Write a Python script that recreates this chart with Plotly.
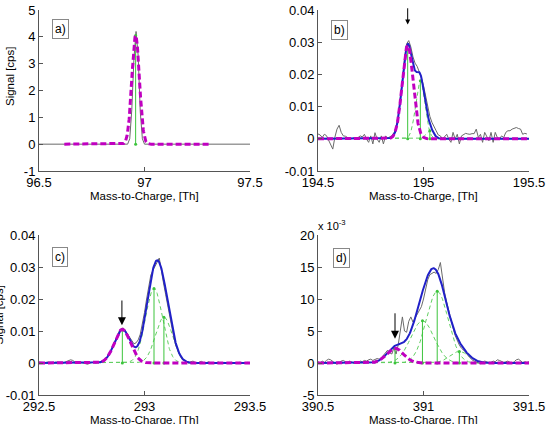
import numpy as np
import plotly.graph_objects as go

W, H = 547, 424
FONT = "Liberation Sans, Arial, sans-serif"

# ---------------- data ----------------
# panel a) : measured signal (cps) and fitted peak (centre, height, width)
a_sig_x = [96.50, 96.92, 96.93, 96.94, 96.95, 96.96, 96.97, 96.98, 96.99, 97.00, 97.50]
a_sig_y = [0, 0, 0.2, 1.3, 3.2, 4.2, 3.3, 1.2, 0.2, 0, 0]
a_fit_range = [96.62, 97.31]
a_target = (96.958, 4.05, 0.018)
a_others = []

# panel b) : signal in 1e-3 cps, sampled every 0.01 Th from 194.50
b_start = 194.50
b_sig_milli = [1.5, 1.2, 0.4, 1.4, 1.0, -0.3, -1.5, -3.2, 0.5, 3.0,
               4.2, 2.0, 0.9, 0.8, 0.4, 0.2, 0.0, 0.3, 0.1, 0.4,
               0.9, 0.6, 1.4, -0.1, -1.1, 0.9, -1.6, 1.9, -0.1, -1.1,
               0.9, -1.6, 0.9, 0.2, 0.5, 1.0, 1.8, 3.5, 7.0, 12.0,
               18.5, 25.0, 29.5, 30.5, 28.5, 25.5, 23.5, 22.5, 21.0, 19.0,
               16.5, 13.0, 9.5, 7.0, 5.1, 3.5, 2.5, 1.2, 0.9, -0.1,
               0.5, 1.4, -0.1, -1.1, 2.0, -0.1, 1.4, -1.6, 0.9, 1.4,
               1.7, 1.5, 1.4, 1.6, 1.6, 3.0, 0.4, 1.4, -1.1, 2.0,
               0.9, -0.6, 2.0, -1.1, 2.0, 0.4, -0.1, 0.9, 0.4, 2.0,
               2.5, 2.5, 3.0, 3.2, 3.5, 3.2, 3.0, 1.4, 1.7, 1.5]
b_target = (194.925, 29.0, 0.026)
b_others = [(194.985, 18.0, 0.022), (195.03, 2.5, 0.018)]

# panel c)
c_start = 292.50
c_sig_milli = [0.3, 0.2, 0.0, 0.1, 0.3, 0.2, 0.0, 0.1, 0.3, 0.2,
               0.1, 0.0, 0.2, 0.5, 0.9, 1.0, 0.8, 0.3, 0.1, 0.0,
               0.2, 0.1, -0.2, -0.4, -0.1, 0.2, 0.1, 0.0, 0.3, 0.4,
               0.6, 1.0, 1.6, 2.5, 3.8, 5.4, 7.0, 8.6, 9.9, 10.8,
               10.9, 10.0, 9.0, 7.8, 6.6, 6.0, 6.3, 7.2, 9.0, 12.0,
               15.8, 20.0, 24.2, 27.5, 29.0, 30.5, 31.5, 32.8, 28.5, 25.0,
               21.5, 17.8, 14.0, 10.8, 7.6, 5.2, 3.3, 2.0, 1.0, 0.8,
               0.2, 0.0, 0.4, 0.6, 0.2, -0.2, 0.3, 0.5, 0.1, -0.3,
               0.4, 0.2, 0.0, -0.2, 0.1, 0.3, 0.0, -0.1, 0.2, 0.1,
               0.0, 0.2, 0.1, -0.1, 0.0, 0.2, 0.1, 0.0, 0.1, 0.2,
               0.1]
c_target = (292.895, 10.5, 0.038)
c_others = [(293.045, 23.3, 0.040), (293.092, 14.3, 0.040)]

# panel d)  (axis in units of 1e-3)
d_start = 390.50
d_sig_milli = [0.2, 0.0, 0.3, 0.1, 0.4, 0.6, 0.5, 0.2, 0.0, -0.2,
               0.1, 0.3, 0.4, 0.2, 0.0, 0.3, 0.1, 0.0, 0.2, 0.1,
               0.3, 0.2, 0.4, 0.3, 0.5, 0.6, 0.4, 0.5, 0.7, 0.6,
               0.8, 1.2, 1.6, 2.0, 1.6, 1.4, 2.4, 1.4, 2.8, 4.9,
               7.2, 5.0, 4.8, 6.5, 7.2, 6.4, 7.0, 7.5, 8.0, 8.8,
               10.0, 11.5, 13.0, 13.8, 14.0, 14.2, 14.0, 14.6, 15.7, 13.0,
               11.0, 9.5, 8.0, 6.8, 5.5, 4.3, 3.5, 2.8, 2.3, 2.0,
               1.7, 1.2, 0.8, 0.5, 0.3, 0.2, 0.0, -0.1, 0.1, 0.3,
               0.2, 0.0, 0.1, 0.3, 0.2, 0.5, 0.4, 0.3, 0.1, 0.2,
               0.3, 0.1, 0.0, 0.2, 0.5, 0.6, 0.3, 0.1, 0.2, 0.1,
               0.2]
d_target = (390.865, 2.3, 0.040)
d_others = [(390.995, 6.6, 0.055), (391.065, 11.2, 0.052), (391.17, 1.8, 0.045)]

# axes
a_xr, a_yr = [96.5, 97.5], [-1, 5]
b_xr, b_yr = [194.5, 195.5], [-0.01, 0.04]
c_xr, c_yr = [292.5, 293.5], [-0.01, 0.04]
d_xr, d_yr = [390.5, 391.5], [-5, 20]
a_xt = [96.5, 97, 97.5]; a_xl = ["96.5", "97", "97.5"]
b_xt = [194.5, 195, 195.5]; b_xl = ["194.5", "195", "195.5"]
c_xt = [292.5, 293, 293.5]; c_xl = ["292.5", "293", "293.5"]
d_xt = [390.5, 391, 391.5]; d_xl = ["390.5", "391", "391.5"]
a_yt = [-1, 0, 1, 2, 3, 4, 5]; a_yl = ["-1", "0", "1", "2", "3", "4", "5"]
bc_yt = [-0.01, 0, 0.01, 0.02, 0.03, 0.04]; bc_yl = ["-0.01", "0", "0.01", "0.02", "0.03", "0.04"]
d_yt = [-5, 0, 5, 10, 15, 20]; d_yl = ["-5", "0", "5", "10", "15", "20"]

panel_labels = ["a)", "b)", "c)", "d)"]
x_title = "Mass-to-Charge, [Th]"
y_title = "Signal [cps]"

# arrows: (x, tail y, tip y)
b_arrow = (194.925, 0.0410, 0.0355)
c_arrow = (292.893, 0.0200, 0.0118)
d_arrow = (390.865, 8.0, 3.8)

# ---------------- styling ----------------
GRAY = "#6a6a6a"
BLUE = "#2020c8"
MAG = "#c000c0"
GREEN = "#3cc43c"
LGREEN = "#62cf62"


def gauss(x, p):
    c, h, s = p
    return h * np.exp(-0.5 * ((x - c) / s) ** 2)


fig = go.Figure()


def add_panel(k, sig_x, sig_y, target, others, fit_range, scale):
    xa, ya = ("x", "y") if k == 1 else ("x%d" % k, "y%d" % k)
    xx = np.linspace(fit_range[0], fit_range[1], 801)
    comps = [target] + others
    for p in others:
        fig.add_trace(go.Scatter(x=xx, y=gauss(xx, p) * scale, mode="lines",
                                 line=dict(color=LGREEN, width=1, dash="4px,3px"),
                                 xaxis=xa, yaxis=ya, showlegend=False, hoverinfo="skip"))
    fig.add_trace(go.Scatter(x=sig_x, y=sig_y, mode="lines", line=dict(color=GRAY, width=1),
                             xaxis=xa, yaxis=ya, showlegend=False))
    sx, sy = [], []
    for c, h, s in comps:
        sx += [c, c, None]
        sy += [0, h * scale, None]
    fig.add_trace(go.Scatter(x=sx, y=sy, mode="lines+markers",
                             line=dict(color=GREEN, width=1), marker=dict(color=GREEN, size=3),
                             xaxis=xa, yaxis=ya, showlegend=False))
    if others:
        total = sum(gauss(xx, p) for p in comps) * scale
        fig.add_trace(go.Scatter(x=xx, y=total, mode="lines", line=dict(color=BLUE, width=2),
                                 xaxis=xa, yaxis=ya, showlegend=False))
    fig.add_trace(go.Scatter(x=xx, y=gauss(xx, target) * scale, mode="lines",
                             line=dict(color=MAG, width=3, dash="6px,3px"),
                             xaxis=xa, yaxis=ya, showlegend=False))


def grid(start, vals):
    return np.round(start + 0.01 * np.arange(len(vals)), 2)


add_panel(1, a_sig_x, a_sig_y, a_target, a_others, a_fit_range, 1.0)
add_panel(2, grid(b_start, b_sig_milli), np.array(b_sig_milli) * 1e-3, b_target, b_others, b_xr, 1e-3)
add_panel(3, grid(c_start, c_sig_milli), np.array(c_sig_milli) * 1e-3, c_target, c_others, c_xr, 1e-3)
add_panel(4, grid(d_start, d_sig_milli), np.array(d_sig_milli), d_target, d_others, d_xr, 1.0)


def px(x):
    return x / W


def py(y):
    return 1 - y / H


dom_x = [[px(39), px(250)], [px(318), px(529)]]
dom_y = [[py(171), py(10)], [py(395), py(235)]]


def axis(domain, rng, tv, tt, anchor):
    return dict(domain=domain, range=rng, tickvals=tv, ticktext=tt, anchor=anchor,
                showline=True, linecolor="#555", linewidth=1, ticks="inside", ticklen=4,
                tickcolor="#555", showgrid=False, zeroline=False, automargin=False,
                tickfont=dict(family=FONT, size=13, color="black"))


layout = dict(
    width=W, height=H, margin=dict(l=0, r=0, t=0, b=0, autoexpand=False),
    paper_bgcolor="white", plot_bgcolor="white", showlegend=False,
    xaxis=axis(dom_x[0], a_xr, a_xt, a_xl, "y"),
    yaxis=axis(dom_y[0], a_yr, a_yt, a_yl, "x"),
    xaxis2=axis(dom_x[1], b_xr, b_xt, b_xl, "y2"),
    yaxis2=axis(dom_y[0], b_yr, bc_yt, bc_yl, "x2"),
    xaxis3=axis(dom_x[0], c_xr, c_xt, c_xl, "y3"),
    yaxis3=axis(dom_y[1], c_yr, bc_yt, bc_yl, "x3"),
    xaxis4=axis(dom_x[1], d_xr, d_xt, d_xl, "y4"),
    yaxis4=axis(dom_y[1], d_yr, d_yt, d_yl, "x4"),
)
fig.update_layout(**layout)
for k in ["xaxis", "xaxis2", "xaxis3", "xaxis4"]:
    fig.layout[k].ticklabelstandoff = -1

ann = []
# panel labels
for lab, (cx, cy) in zip(panel_labels, [(60, 29), (339, 30), (59.5, 257), (341, 258)]):
    ann.append(dict(x=px(cx), y=py(cy), xref="paper", yref="paper", xanchor="center", yanchor="middle",
                    text=lab, showarrow=False,
                    font=dict(family=FONT, size=12, color="black"), bgcolor="white",
                    bordercolor="#888", borderwidth=1, borderpad=2))
# x titles (bottom ones are partly cut by the page edge in the original)
for cx, cy in [(144.5, 196), (423.5, 196), (144.5, 420), (423.5, 420)]:
    ann.append(dict(x=px(cx), y=py(cy), xref="paper", yref="paper", xanchor="center", yanchor="middle",
                    text=x_title, showarrow=False,
                    font=dict(family=FONT, size=11.5, color="black")))
# y titles (lower one is cut by the page edge)
for cx, cy in [(10, 77), (-1.5, 315)]:
    ann.append(dict(x=px(cx), y=py(cy), xref="paper", yref="paper", xanchor="center", yanchor="middle",
                    text=y_title, showarrow=False,
                    textangle=-90, font=dict(family=FONT, size=11.5, color="black")))
# multiplier
ann.append(dict(x=px(316), y=py(225), xref="paper", yref="paper", xanchor="left", yanchor="middle",
                text="x 10<sup>-3</sup>", showarrow=False,
                font=dict(family=FONT, size=11, color="black")))
# arrows
for k, (xa, tail, tip), size in [(2, b_arrow, 1.0), (3, c_arrow, 1.6), (4, d_arrow, 1.6)]:
    ann.append(dict(x=xa, y=tip, ax=xa, ay=tail, xref="x%d" % k, yref="y%d" % k,
                    axref="x%d" % k, ayref="y%d" % k, text="", showarrow=True,
                    arrowhead=2, arrowsize=size, arrowwidth=1, arrowcolor="black", standoff=0))
fig.update_layout(annotations=ann)

fig.write_html("out.html")
